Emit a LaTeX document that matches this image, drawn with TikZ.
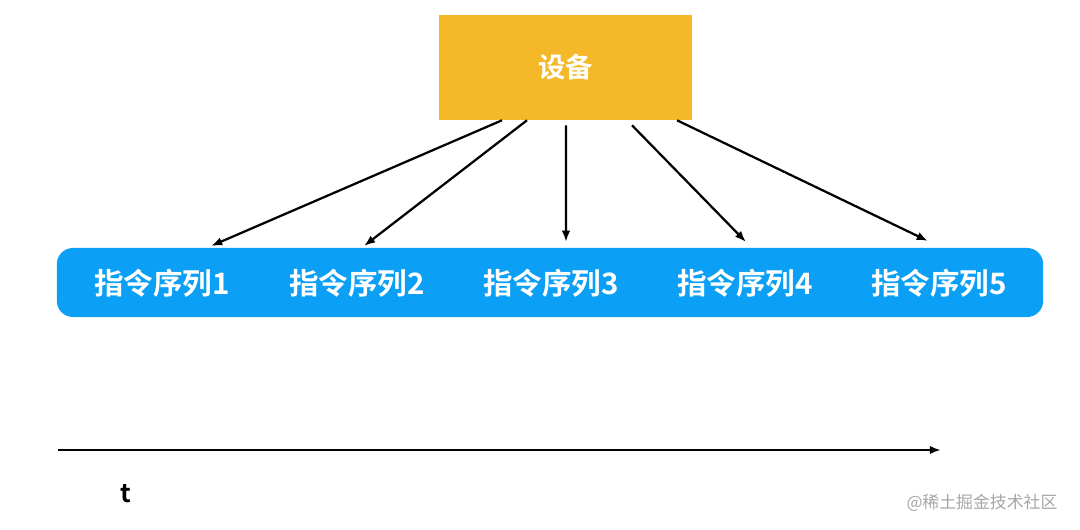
\documentclass[tikz,border=0pt]{standalone}
\usepackage{fontspec}
\newfontfamily\cjk{Noto Sans CJK SC}[BoldFont={Noto Sans CJK SC Bold}]
\usetikzlibrary{calc,arrows.meta}
\definecolor{devyellow}{HTML}{F5B828}
\definecolor{seqblue}{HTML}{0B9FF5}

\begin{document}
\begin{tikzpicture}[>={Latex[length=8pt,width=6pt]}, x=0.025cm, y=-0.025cm,
  seq/.style={text=white, font=\cjk\bfseries\fontsize{21}{24}\selectfont},
  link/.style={->, line width=1.6pt}]
  \useasboundingbox (0,0) rectangle (1080,530);
  \node[fill=devyellow, minimum width=6.325cm, minimum height=2.625cm, text=white,
        font=\cjk\bfseries\fontsize{19.5}{23}\selectfont] (dev) at (565.5,67.5) {设备};
  \node[fill=seqblue, rounded corners=0.4cm, minimum width=24.65cm, minimum height=1.725cm] (bar) at (550,282.5) {};
  \foreach \i/\x in {1/162, 2/357, 3/551, 4/745, 5/939}
    \node[seq] (s\i) at (\x,283) {指令序列\i};
  % arrow ends
  \coordinate (e1) at (211,246);
  \coordinate (e2) at (364,246);
  \coordinate (e3) at (566,242);
  \coordinate (e4) at (746,242);
  \coordinate (e5) at (928,241);
  \draw[link] ($(dev.south)+(-63.5,0)$) -- (e1);
  \draw[link] ($(dev.south)+(-38.5,0)$) -- (e2);
  \draw[link] ($(dev.south)+(0.5,5)$) -- (e3);
  \draw[link] ($(dev.south)+(66.5,5)$) -- (e4);
  \draw[link] ($(dev.south)+(111.5,0)$) -- (e5);
  % time axis
  \coordinate (t0) at (58,450);
  \coordinate (t1) at (941,450);
  \draw[link] (t0) -- (t1);
  \node[font=\cjk\bfseries\fontsize{18}{20}\selectfont] (tlab) at (126,494) {t};
  \node[text=gray!70, font=\cjk\fontsize{12}{14}\selectfont] (mark) at (982,503) {@稀土掘金技术社区};
\end{tikzpicture}
\end{document}
